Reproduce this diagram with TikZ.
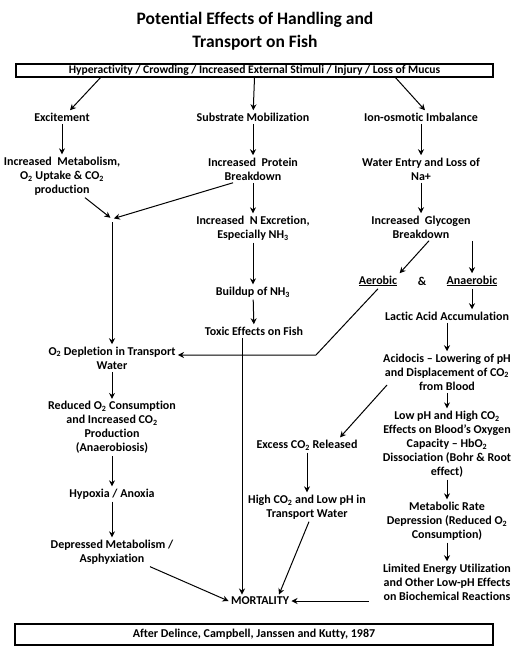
\documentclass[tikz,border=0pt]{standalone}
\usepackage{fontspec}
\setmainfont{Carlito}[Ligatures=NoCommon]
\usepackage{tikz}
\usetikzlibrary{arrows.meta,positioning,calc}
\tikzset{>={Stealth[length=6pt,width=6pt]}}

\begin{document}
\begin{tikzpicture}[x=1pt, y=-1pt, line width=1pt,
    every node/.style={font=\bfseries\fontsize{12}{14}\selectfont, align=center, inner sep=2pt},
    framebox/.style={draw, line width=1.2pt, inner sep=0pt}]
			\useasboundingbox (0,0) rectangle (521,658);
			
			% Title and cause box
			\node[font=\bfseries\fontsize{17.5}{23}\selectfont] (title) at (255,31) {Potential Effects of Handling and\\ Transport on Fish};
			\node[framebox, minimum width=477pt, minimum height=13pt, font=\bfseries\fontsize{11.6}{12}\selectfont] (cause) at (254.5,70.5) {Hyperactivity / Crowding / Increased External Stimuli / Injury / Loss of Mucus};
			
			% Three branches
			\node (excite) at (62,117) {Excitement};
			\node (substr) at (253,117) {Substrate Mobilization};
			\node (ion) at (421,117) {Ion-osmotic Imbalance};
			\draw[->] ([xshift=-154pt]cause.south) -- ([xshift=8pt]excite.north);
			\draw[->] (cause.south) -- (substr);
			\draw[->] ([xshift=141pt]cause.south) -- ([xshift=4pt]ion.north);
			
			% Left column
			\node (metab) at (62,176) {Increased~ Metabolism,\\ O\textsubscript{2} Uptake \& CO\textsubscript{2}\\ production};
			\node (o2dep) at (112,358) {O\textsubscript{2} Depletion in Transport\\ Water};
			\node (reduced) at (112,427.5) {Reduced O\textsubscript{2} Consumption\\ and Increased CO\textsubscript{2}\\ Production\\ (Anaerobiosis)};
			\node (hypoxia) at (112,494) {Hypoxia / Anoxia};
			\node (depress) at (112,552) {Depressed Metabolism /\\ Asphyxiation};
			\coordinate (join) at (112,219);
			\coordinate (joinfoot) at (112,222);
			\draw[->] (excite) -- (metab);
			\draw[->, shorten >=2pt] ([xshift=23pt]metab.south) -- (join);
			\draw[->] (joinfoot) -- (o2dep);
			\draw[->] (o2dep) -- (reduced);
			\draw[->] (reduced) -- (hypoxia);
			\draw[->] (hypoxia) -- (depress);
			
			% Middle column
			\node (protein) at (253,169) {Increased~ Protein\\ Breakdown};
			\node (nexcr) at (253,228) {Increased~ N Excretion,\\ Especially NH\textsubscript{3}};
			\node (nh3) at (253,292) {Buildup of NH\textsubscript{3}};
			\node (toxic) at (254,331) {Toxic Effects on Fish};
			\draw[->] (substr) -- (protein);
			\draw[->, shorten >=2pt] ([xshift=-20pt]protein.south) -- (join);
			\draw[->] (protein) -- (nexcr);
			\draw[->] (nexcr) -- (nh3);
			\draw[->] (nh3) -- (toxic);
			
			% Right column
			\node (water) at (421,169) {Water Entry and Loss of\\ Na+};
			\node (glyco) at (421,227) {Increased~ Glycogen\\ Breakdown};
			\node (aer) at (378,281) {\underline{Aerobic}};
			\node (amp) at (422,281) {\&};
			\node (anaer) at (472,281) {\underline{Anaerobic}};
			\node (lactic) at (447,316) {Lactic Acid Accumulation};
			\node (acid) at (447,372) {Acidocis -- Lowering of pH\\ and Displacement of CO\textsubscript{2}\\ from Blood};
			\node (lowph) at (447,444) {Low pH and High CO\textsubscript{2}\\ Effects on Blood's Oxygen\\ Capacity -- HbO\textsubscript{2}\\ Dissociation (Bohr \& Root\\ effect)};
			\node (metrate) at (447,521) {Metabolic Rate\\ Depression (Reduced O\textsubscript{2}\\ Consumption)};
			\node (limited) at (447,582) {Limited Energy Utilization\\ and Other Low-pH Effects\\ on Biochemical Reactions};
			\draw[->] (ion) -- (water);
			\draw[->] (water) -- (glyco);
			\draw[->] ([xshift=8pt]glyco.south) -- (aer.north east);
			\draw[->] ([xshift=51pt]glyco.south) -- (anaer);
			\draw[->] (anaer) -- (anaer |- lactic.north);
			\draw[->] (lactic) -- (acid);
			\draw[->] (acid) -- (lowph);
			\draw[->] (lowph) -- (metrate);
			\draw[->] (metrate) -- (limited);
			
			% Aerobic route back to oxygen depletion
			\coordinate (kink) at (316,355);
			\draw[->] (aer.south) -- (kink) -- (o2dep.east |- kink);
			
			% CO2 release into the water
			\node (excess) at (307,445) {Excess CO\textsubscript{2} Released};
			\node (highco2) at (307,507) {High CO\textsubscript{2} and Low pH in\\ Transport Water};
			\coordinate (acidfoot) at (387,385);
			\draw[->] (acidfoot) -- ([xshift=33pt]excess.north);
			\draw[->] (excess) -- (highco2);
			
			% Mortality
			\node (mort) at (260,601) {MORTALITY};
			\draw[->] ([xshift=-12pt]toxic.south) -- ([xshift=-12pt]toxic.south |- mort.north);
			\draw[->] ([xshift=38pt]depress.south) -- (mort.west);
			\draw[->] ([xshift=2pt]highco2.south) -- ([xshift=19pt]mort.north);
			\draw[->] ([xshift=-12pt]limited.west |- mort) -- (mort.east);
			
			% Source
			\node[framebox, minimum width=478pt, minimum height=21pt] (source) at (254,634.5) {After Delince, Campbell, Janssen and Kutty, 1987};
		\end{tikzpicture}
\end{document}
